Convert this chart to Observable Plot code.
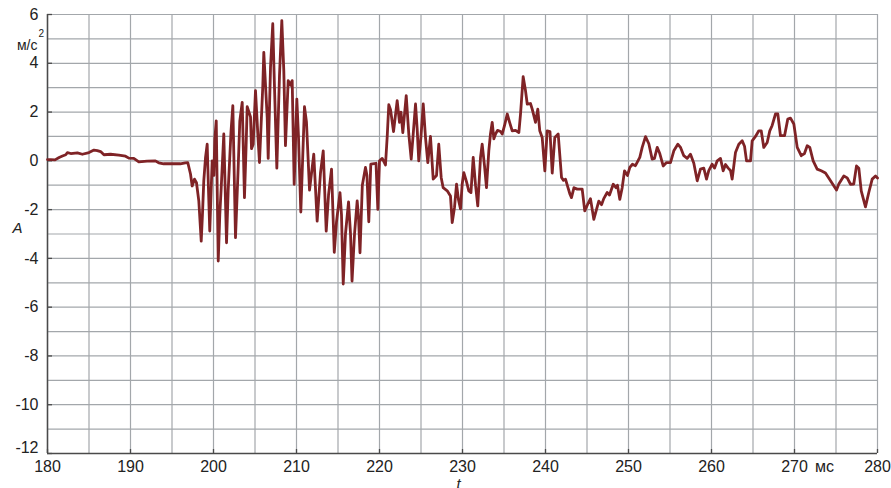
<!DOCTYPE html>
<html>
<head>
<meta charset="utf-8">
<script src="https://cdn.jsdelivr.net/npm/d3@7"></script>
<script src="https://cdn.jsdelivr.net/npm/@observablehq/plot@0.6"></script>
<style>
  html, body { margin: 0; padding: 0; background: #fff; }
  #chart { width: 891px; height: 488px; overflow: hidden; }
</style>
</head>
<body>
<div id="chart"></div>
<script>
// Acceleration record: time (ms) and acceleration A (m/s²)
const timeMs = [
  180.0, 180.4, 180.9, 181.4, 181.8, 182.2, 182.4, 182.8, 183.6, 184.2,
  185.0, 185.6, 186.0, 186.4, 186.8, 187.6, 188.6, 189.4, 189.8, 190.4,
  191.0, 192.0, 193.0, 193.4, 194.0, 196.0, 196.6, 196.9,
  197.23, 197.43, 197.71, 197.95, 198.23, 198.52, 198.67, 198.83, 199.04, 199.24,
  199.40, 199.55, 199.84, 200.04, 200.16, 200.33, 200.57, 200.76, 200.93, 201.24,
  201.57, 201.77, 202.11, 202.33, 202.65, 202.95, 203.17, 203.46, 203.73, 203.92,
  204.06, 204.46, 204.58, 204.78, 205.06, 205.36, 205.54, 205.94, 206.06, 206.47,
  206.59, 206.87, 207.14, 207.35, 207.63, 207.95, 208.23, 208.47, 208.67, 209.0,
  209.28, 209.48, 209.72, 210.04, 210.24, 210.52, 210.96, 211.2, 211.57, 212.08,
  212.49, 212.89, 213.22, 213.58, 213.86, 214.22, 214.55, 214.82, 215.24, 215.42,
  215.63, 215.90, 216.27, 216.51, 216.69, 216.99, 217.31, 217.47, 217.65, 217.93,
  218.31, 218.49, 218.71, 218.95, 219.58, 219.80, 220.0, 220.33, 220.72, 220.93,
  221.12, 221.33, 221.69, 222.13, 222.41, 222.59, 222.81, 223.22, 223.53, 223.82,
  224.04, 224.34, 224.54, 224.73, 225.0, 225.27, 225.54, 225.82, 226.14, 226.47,
  226.87, 227.14, 227.43, 227.67, 228.16, 228.55, 228.76, 229.04, 229.28, 229.52,
  229.76, 229.96, 230.16, 230.48, 230.76, 231.02, 231.29, 231.57, 231.84, 232.17,
  232.37, 232.65, 232.89, 233.17, 233.37, 233.58, 233.78, 233.98, 234.22, 234.58,
  234.78, 235.06, 235.39, 235.66, 235.99, 236.39, 236.79, 236.99, 237.31, 237.59,
  237.80, 238.19, 238.40, 238.80, 239.07, 239.31, 239.60, 239.92, 240.20, 240.54,
  240.81, 241.12, 241.53, 241.93, 242.17, 242.41, 242.71, 242.95, 243.13, 243.43,
  243.82, 244.42, 244.73, 245.06, 245.42, 245.82, 246.14, 246.42, 246.75, 247.02,
  247.43, 247.71, 248.16, 248.49, 248.67, 248.95, 249.24, 249.52, 249.88, 250.16,
  250.48, 250.84, 251.36, 251.65, 252.05, 252.45, 252.85, 253.13, 253.46, 253.77,
  254.18, 254.58, 255.06, 255.46, 255.94, 256.27, 256.66, 257.07, 257.47, 257.87,
  258.28, 258.67, 259.07, 259.40, 259.67, 260.08, 260.36, 260.69, 261.08, 261.41,
  261.69, 262.01, 262.29, 262.49, 262.69, 262.89, 263.29, 263.70, 263.98, 264.22,
  264.70, 264.90, 265.30, 265.70, 265.99, 266.30, 266.71, 267.02, 267.31, 267.71,
  267.99, 268.31, 268.80, 269.19, 269.52, 269.92, 270.33, 270.81, 271.20, 271.53,
  271.84, 272.25, 272.73, 273.22, 273.73, 274.34, 275.06, 275.34, 275.94, 276.35,
  276.75, 277.14, 277.47, 277.75, 278.04, 278.55, 278.95, 279.36, 279.76, 280.0
];
const accel = [
  0.05, 0.05, 0.04, 0.14, 0.2, 0.25, 0.34, 0.3, 0.33, 0.27,
  0.34, 0.44, 0.42, 0.38, 0.25, 0.27, 0.23, 0.19, 0.11, 0.1,
  -0.04, -0.01, 0.0, -0.08, -0.12, -0.12, -0.08, -0.07,
  -0.54, -1.03, -0.75, -0.9, -1.64, -3.29, -2.2, -0.82, 0.14, 0.68,
  -1.23, -2.88, 0.0, -0.6, 0.89, 1.64, -4.11, -2.19, -1.1, 1.1,
  -3.36, -1.2, 1.2, 2.26, -3.15, -0.5, 1.64, 2.4, -1.51, 0.5,
  2.22, 1.8, 0.5, 0.68, 2.88, 0.96, -0.07, 3.08, 4.45, 1.78,
  0.1, 3.84, 5.62, 3.0, -0.3, 3.5, 5.75, 3.7, 0.62, 3.29,
  3.1, 3.29, -0.96, 2.53, 1.0, -2.1, 2.22, 1.6, -1.2, 0.27,
  -2.47, -0.5, 0.41, -2.88, -1.4, -0.34, -3.75, -2.5, -1.3, -2.2,
  -5.05, -3.0, -1.68, -3.0, -4.93, -3.0, -1.64, -2.3, -3.77, -1.0,
  -0.27, -0.6, -2.5, -0.14, -0.1, -1.99, 0.0, 0.1, -0.17, 1.0,
  2.3, 2.1, 1.2, 2.47, 1.58, 2.0, 1.16, 2.67, 1.1, 0.07,
  1.0, 2.33, 1.3, 0.0, 1.0, 2.33, 0.96, -0.07, 1.0, -0.75,
  -0.6, 0.68, -0.68, -1.1, -1.23, -1.44, -2.53, -1.9, -0.96, -1.6,
  -1.97, -0.96, -0.48, -0.85, -1.23, -1.3, 0.14, -1.0, -1.85, 0.14,
  0.68, -0.2, -1.1, 0.41, 1.1, 1.58, 0.9, 1.1, 1.25, 1.2,
  1.1, 1.44, 1.92, 1.6, 1.23, 1.25, 1.16, 1.92, 3.45, 2.88,
  2.33, 2.35, 2.12, 1.58, 2.12, 1.23, 0.96, -0.41, 1.23, 1.2,
  -0.5, 0.96, 1.1, -0.68, -0.8, -0.75, -1.1, -1.37, -1.51, -1.1,
  -1.16, -1.16, -2.05, -1.8, -1.55, -2.4, -2.0, -1.65, -1.8, -1.55,
  -1.3, -1.4, -0.96, -1.1, -1.0, -1.58, -1.1, -0.41, -0.6, -0.27,
  -0.14, -0.2, 0.14, 0.55, 0.99, 0.7, 0.07, 0.1, 0.55, 0.3,
  -0.21, -0.07, -0.07, 0.41, 0.68, 0.55, 0.21, 0.1, 0.27, -0.1,
  -0.82, -0.34, -0.3, -0.75, -0.4, -0.14, -0.3, 0.0, 0.1, -0.41,
  -0.15, -0.3, -0.4, -0.75, -0.2, 0.34, 0.68, 0.82, 0.6, 0.0,
  0.0, 0.82, 1.0, 1.23, 1.23, 0.55, 0.75, 1.23, 1.45, 1.92,
  1.92, 1.03, 1.03, 1.71, 1.75, 1.51, 0.55, 0.21, 0.3, 0.62,
  0.55, 0.0, -0.34, -0.41, -0.5, -0.82, -1.2, -0.95, -0.62, -0.7,
  -0.96, -0.95, -0.21, -0.3, -1.23, -1.89, -1.3, -0.75, -0.62, -0.7
];

// Axis ticks and grid
const xTickValues = [180, 190, 200, 210, 220, 230, 240, 250, 260, 270, 280];
const yTickValues = [-12, -10, -8, -6, -4, -2, 0, 2, 4, 6];
const xGridValues = [180, 185, 190, 195, 200, 205, 210, 215, 220, 225, 230, 235, 240,
  245, 250, 255, 260, 265, 270, 275, 280];
const yGridValues = [-12, -11, -10, -9, -8, -7, -6, -5, -4, -3, -2, -1, 0, 1, 2, 3, 4, 5, 6];

// Axis titles
const unitYLabel = "м/с";
const unitYPower = "2";
const yTitle = "A";
const xTitle = "t";
const unitXLabel = "мс";

const samples = timeMs.map((t, i) => ({t, a: accel[i]}));

const W = 891, H = 488;
const mL = 47, mR = 14, mT = 14, mB = 35;
const frameW = W - mL - mR, frameH = H - mT - mB;
const FONT = "'Liberation Sans', Arial, sans-serif";
const AXIS = "#4a4a4a";
const GRID = "#a3a7ab";
const TEXT = "#222";
const plain = (d) => String(d); // hyphen-minus, as printed on the axes

const chart = Plot.plot({
  width: W,
  height: H,
  marginLeft: mL,
  marginRight: mR,
  marginTop: mT,
  marginBottom: mB,
  style: {fontFamily: FONT, fontSize: "16px", background: "#fff", overflow: "visible"},
  x: {domain: [180, 280], label: null},
  y: {domain: [-12, 6], label: null},
  marks: [
    Plot.ruleX(xGridValues, {stroke: GRID, strokeWidth: 1.2}),
    Plot.ruleY(yGridValues, {stroke: GRID, strokeWidth: 1.2}),
    Plot.ruleX(xTickValues, {insetTop: frameH - 4, stroke: AXIS, strokeWidth: 1.3}),
    Plot.ruleY(yTickValues, {insetRight: frameW - 5, stroke: AXIS, strokeWidth: 1.3}),
    Plot.ruleX([180], {stroke: AXIS, strokeWidth: 1.5}),
    Plot.ruleY([-12], {stroke: AXIS, strokeWidth: 1.5}),
    Plot.line(samples, {x: "t", y: "a", stroke: "#7f2326", strokeWidth: 2.8}),
    Plot.axisX(xTickValues, {tickSize: 0, tickPadding: 7, fontSize: 16, fill: TEXT, tickFormat: plain, label: null}),
    Plot.axisY(yTickValues.filter((v) => v !== -12), {tickSize: 0, tickPadding: 9, fontSize: 16, fill: TEXT, tickFormat: plain, label: null}),
    Plot.axisY([-12], {tickSize: 0, tickPadding: 9, dy: -6, fontSize: 16, fill: TEXT, tickFormat: plain, label: null}),
    Plot.text([unitYLabel], {text: (d) => d, frameAnchor: "top-left", dx: -10, dy: 26, textAnchor: "end", fontSize: 14, fill: TEXT}),
    Plot.text([unitYPower], {text: (d) => d, frameAnchor: "top-left", dx: -9, dy: 15.5, fontSize: 10, fill: TEXT}),
    Plot.text([yTitle], {text: (d) => d, frameAnchor: "left", dx: -35, dy: -5.5, fontSize: 15, fontStyle: "italic", fill: TEXT}),
    Plot.text([xTitle], {text: (d) => d, frameAnchor: "bottom", dx: -4, dy: 35, fontSize: 15, fontStyle: "italic", fill: TEXT}),
    Plot.text([unitXLabel], {text: (d) => d, frameAnchor: "bottom-right", dx: -43.5, dy: 7, lineAnchor: "top", fontSize: 16, fill: TEXT})
  ]
});

document.getElementById("chart").appendChild(chart);
</script>
</body>
</html>
